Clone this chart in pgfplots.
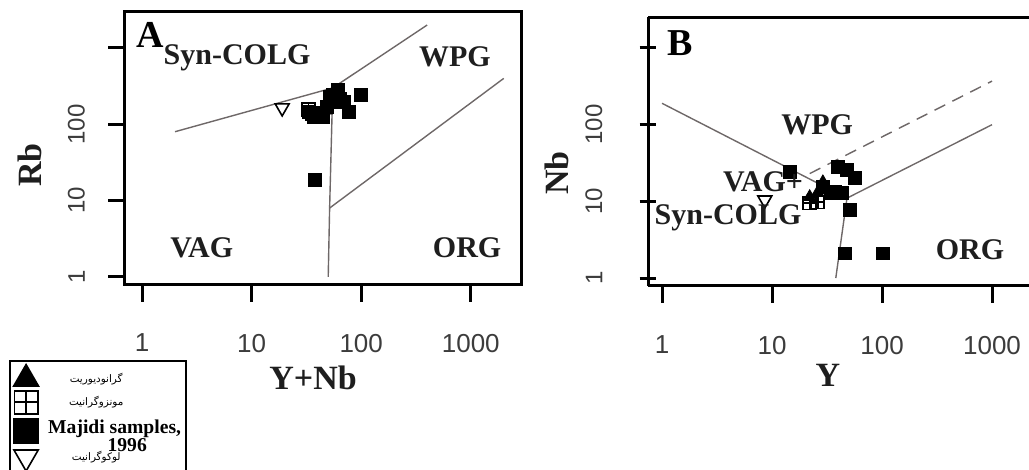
\documentclass[border=0pt]{standalone}
\usepackage{fontspec}
\setmainfont{Liberation Serif}
\newfontfamily\sansf{Liberation Sans}
\newfontfamily\fa[Script=Arabic]{DejaVu Sans}
\TeXXeTstate=1
\usepackage{pgfplots}
\pgfplotsset{compat=1.18}
\definecolor{bline}{HTML}{6E6868}
\definecolor{tlab}{HTML}{3C3C3C}
\definecolor{txt}{HTML}{1E1E1E}
\pgfdeclareplotmark{boxplus}{%
  \pgfpathrectangle{\pgfqpoint{-\pgfplotmarksize}{-\pgfplotmarksize}}{\pgfqpoint{2\pgfplotmarksize}{2\pgfplotmarksize}}%
  \pgfpathmoveto{\pgfqpoint{-\pgfplotmarksize}{0pt}}\pgfpathlineto{\pgfqpoint{\pgfplotmarksize}{0pt}}%
  \pgfpathmoveto{\pgfqpoint{0pt}{-\pgfplotmarksize}}\pgfpathlineto{\pgfqpoint{0pt}{\pgfplotmarksize}}%
  \pgfusepathqstroke}
\tikzset{
  zone/.style={font=\bfseries\fontsize{15}{15}\selectfont, text=txt},
  pan/.style={font=\bfseries\fontsize{19}{19}\selectfont, text=black},
}
\pgfplotsset{
  bnd/.style={bline, line width=0.7pt, no markers, forget plot},
  maj/.style={only marks, mark=square*, mark size=3.2pt, black},
  mon/.style={only marks, mark=boxplus, mark size=3.2pt, black, mark options={fill=white, line width=0.9pt}},
  gra/.style={only marks, mark=triangle*, mark size=3.6pt, black},
  leu/.style={only marks, mark=triangle, mark size=4pt, black, mark options={rotate=180, fill=white, line width=0.8pt}},
}
\begin{document}
\begin{tikzpicture}
\useasboundingbox (0,0) rectangle (514.5pt,235pt);
% ---------------- Panel A ----------------
\begin{axis}[
  xmode=log, ymode=log, scale only axis, clip mode=individual,
  xminorticks=false, yminorticks=false,
  tick align=outside, tick pos=left,
  major tick length=8.5pt,
  major tick style={black, line width=1.5pt},
  axis line style={black, line width=1.5pt},
  xtick={1,10,100,1000}, xticklabels={1,10,100,1000},
  ytick={1,10,100,1000}, yticklabels={1,10,100,{}},
  xticklabel style={font=\sansf\fontsize{13}{13}\selectfont, text=tlab},
  yticklabel style={font=\sansf\fontsize{12}{12}\selectfont, text=tlab, rotate=90, anchor=south},
  xticklabel shift=12.5pt, yticklabel shift=8pt,
  label style={font=\bfseries\fontsize{17}{17}\selectfont, text=txt},
  at={(62.5pt,92.5pt)}, anchor=south west,
  width=198pt, height=136.5pt,
  xmin=0.699, xmax=2873, ymin=0.785, ymax=2965,
  xlabel={Y+Nb}, ylabel={Rb},
  xlabel style={at={(axis description cs:0.475,-0.341)}, anchor=center},
  ylabel style={at={(axis description cs:-0.240,0.44)}, anchor=center},
  legend style={at={(axis description cs:-0.293,-0.2747)}, anchor=north west,
    draw=black, line width=1pt, inner xsep=2pt, inner ysep=2pt, row sep=1pt,
    font=\fontsize{5.2}{6}\selectfont, cells={anchor=center}},
  legend cell align=center,
]
\addplot[bnd] coordinates {(2,80) (55,300) (400,2000)};
\addplot[bnd] coordinates {(55,300) (51.5,8) (50,1)};
\addplot[bnd] coordinates {(51.5,8) (2000,400)};
\addplot[gra, legend image post style={mark size=7pt, xshift=3.5pt}] coordinates {(42,132) (47,152)};
\addlegendentry{\parbox{68pt}{\centering\hspace*{-14pt}\fa\beginR گرانودیوریت\endR}}
\addplot[mon, legend image post style={mark size=5.8pt, xshift=3.5pt}] coordinates {(33,155) (36,136)};
\addlegendentry{\parbox{68pt}{\centering\hspace*{-14pt}\fa\beginR مونزوگرانیت\endR}}
\addplot[maj, legend image post style={mark size=6pt, xshift=3.5pt}] coordinates {(99,243) (77,146) (61,282) (55,243) (69,196) (49,169) (40,141) (33,146) (37,125) (45,125) (55,196) (52,228) (64,215) (38,18.6)};
\addlegendentry{\parbox{68pt}{\centering\bfseries\fontsize{9.8}{9}\selectfont\mbox{\hspace*{3pt}Majidi samples,}\\\hspace*{17pt}1996}}
\addplot[leu, legend image post style={mark size=7pt, xshift=3.5pt}] coordinates {(19,164)};
\addlegendentry{\parbox{68pt}{\centering\hspace*{-14pt}\fa\beginR لوکوگرانیت\endR}}
\node[pan]  at (rel axis cs:0.063,0.916) {A};
\node[zone] at (rel axis cs:0.283,0.832) {Syn-COLG};
\node[zone] at (rel axis cs:0.833,0.835) {WPG};
\node[zone] at (rel axis cs:0.194,0.136) {VAG};
\node[zone] at (rel axis cs:0.864,0.136) {ORG};
\end{axis}
% ---------------- Panel B ----------------
\begin{axis}[
  xmode=log, ymode=log, scale only axis, clip mode=individual,
  xminorticks=false, yminorticks=false,
  tick align=outside, tick pos=left,
  major tick length=8.5pt,
  major tick style={black, line width=1.5pt},
  axis x line=box, axis y line=left,
  axis line style={black, line width=1.5pt, -},
  xtick={1,10,100,1000}, xticklabels={1,10,100,1000},
  ytick={1,10,100,1000}, yticklabels={1,10,100,{}},
  xticklabel style={font=\sansf\fontsize{13}{13}\selectfont, text=tlab},
  yticklabel style={font=\sansf\fontsize{12}{12}\selectfont, text=tlab, rotate=90, anchor=south},
  xticklabel shift=13pt, yticklabel shift=15pt,
  label style={font=\bfseries\fontsize{17}{17}\selectfont, text=txt},
  at={(324pt,92pt)}, anchor=south west,
  width=190.5pt, height=134.5pt,
  xmin=0.746, xmax=2168, ymin=0.787, ymax=2535,
  xlabel={Y}, ylabel={Nb},
  xlabel style={at={(axis description cs:0.472,-0.331)}, anchor=center},
  ylabel style={at={(axis description cs:-0.239,0.42)}, anchor=center},
]
\addplot[bnd] coordinates {(1,190) (48,11) (1000,100)};
\addplot[bnd] coordinates {(38,1) (48,11)};
\addplot[bnd, dash pattern=on 6pt off 4pt] coordinates {(22,23) (1000,370)};
\addplot[gra] coordinates {(29,17.8) (22,11.4) (26,13)};
\addplot[mon] coordinates {(26,9.8) (22,9.5)};
\addplot[maj] coordinates {(14.6,24) (40,28) (48,25.7) (57,20) (43,12.8) (37,13.2) (51,7.7) (46,2.1) (102,2.1) (29,15.4) (34,12.8)};
\addplot[leu] coordinates {(8.6,10.4)};
\node[pan]  at (rel axis cs:0.084,0.903) {B};
\node[zone] at (rel axis cs:0.444,0.599) {WPG};
\node[zone] at (rel axis cs:0.302,0.387) {VAG+};
\node[zone] at (rel axis cs:0.210,0.253) {Syn-COLG};
\node[zone] at (rel axis cs:0.845,0.134) {ORG};
\end{axis}
\end{tikzpicture}
\end{document}
